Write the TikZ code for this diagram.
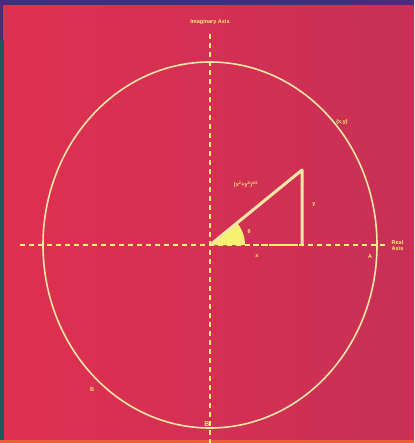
\documentclass[tikz,border=0pt]{standalone}
\usepackage{fontspec}
\setmainfont{Liberation Sans}
\begin{document}
\begin{tikzpicture}[x=1pt,y=-1pt,
  lbl/.style={text=labyellow,font=\fontsize{5.5}{6}\selectfont\bfseries,inner sep=0.5pt},
  axis/.style={draw=labyellow,line width=1.4pt,dash pattern=on 5pt off 4pt},
  curve/.style={draw=lineyellow,line width=1.6pt},
  tri/.style={draw=lineyellow,line width=3pt,line join=round}]
\definecolor{bgleft}{HTML}{DF3050}
\definecolor{bgright}{HTML}{C83056}
\definecolor{topband}{HTML}{4A2A7C}
\definecolor{sidestrip}{HTML}{1C5A5C}
\definecolor{bottomline}{HTML}{E8603A}
\definecolor{lineyellow}{HTML}{F6E6A4}
\definecolor{labyellow}{HTML}{F8F070}
\useasboundingbox (0,0) rectangle (414,443);
\shade[left color=bgleft,right color=bgright] (0,0) rectangle (414,443);
\fill[topband] (0,0) rectangle (414,5);
\fill[topband] (0,0) rectangle (3,40);
\fill[sidestrip] (0,40) rectangle (4,443);
\fill[bottomline] (0,440) rectangle (414,443);
% axes
\coordinate (O) at (210,245);
\coordinate (vtop) at (210,34);
\coordinate (vbot) at (210,443);
\coordinate (hleft) at (20,245);
\coordinate (hright) at (386,245);
\draw[axis] (vtop) -- (vbot);
\draw[axis] (hleft) -- (hright);
% circle
\draw[curve] (O) ellipse [x radius=167, y radius=183];
% triangle
\coordinate (R) at (302,245);
\coordinate (P) at (302,170);
\fill[labyellow] (O) -- (245,245) arc[start angle=0,end angle=-39,radius=35] -- cycle;
\draw[tri] (O) -- (P) -- (R);
\draw[labyellow,line width=1.4pt,dash pattern=on 5pt off 3pt] (245,245) -- (R);
% labels
\node[lbl] (imag) at (210,22) {Imaginary Axis};
\node[lbl,align=left,anchor=west] (real) at (391,246) {Real\\Axis};
\node[lbl] (xy) at (342,122) {(x,y)};
\node[lbl] (hyp) at (246,185) {(x\textsuperscript{2}+y\textsuperscript{2})\textsuperscript{1/2}};
\node[lbl] (theta) at (249,232) {θ};
\node[lbl] (xl) at (257,256) {x};
\node[lbl] (yl) at (314,205) {y};
\node[lbl] (A) at (370,257) {A};
\node[lbl] (B) at (92,390) {B};
\node[lbl,font=\fontsize{7}{7}\selectfont\bfseries] (Bi) at (207,424) {B};
\end{tikzpicture}
\end{document}
